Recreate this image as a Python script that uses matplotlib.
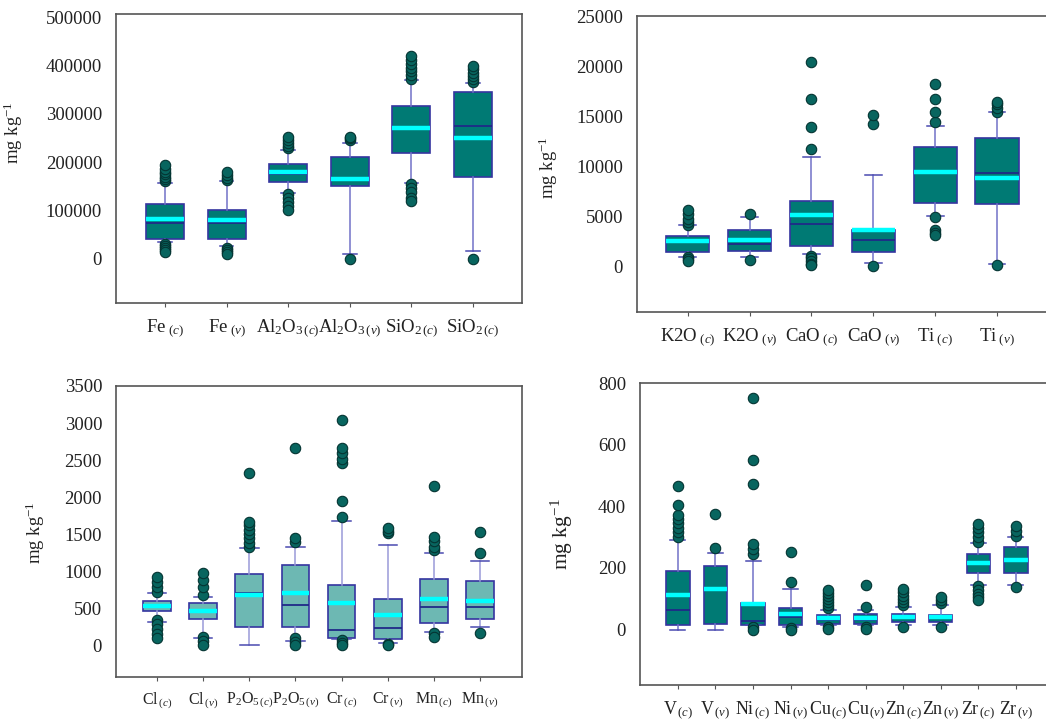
import numpy as np
import matplotlib
matplotlib.use('Agg')
import matplotlib.pyplot as plt

plt.rcParams['font.family'] = ['Liberation Serif', 'DejaVu Serif']
plt.rcParams['mathtext.fontset'] = 'custom'
plt.rcParams['mathtext.rm'] = 'Liberation Serif'
plt.rcParams['mathtext.it'] = 'Liberation Serif:italic'

# ---- panel 1 : major oxides (mg/kg)
labels1 = [r'Fe$_{\ (c)}$', r'Fe$_{\ (v)}$', r'Al$_2$O$_{3\,(c)}$', r'Al$_2$O$_{3\,(v)}$',
           r'SiO$_{2\,(c)}$', r'SiO$_{2\,(c)}$']
q1_1 = [41400, 41400, 158600, 150000, 219000, 169000]
med1 = [73800, 73800, 176000, 165000, 268000, 274000]
q3_1 = [113800, 101000, 196500, 210000, 317000, 346000]
mean1 = [82800, 79300, 178600, 165500, 270000, 250000]
lo1 = [34500, 26000, 136000, 10300, 157000, 15000]
hi1 = [157000, 161000, 226000, 239000, 370000, 365000]
fl1 = [[160000, 165000, 170000, 175000, 180000, 186000, 193000, 31000, 27000, 22000, 18000, 14000],
       [163000, 168000, 173000, 179000, 23000, 18000, 14000, 10000],
       [229000, 234000, 240000, 246000, 253000, 133000, 126000, 118000, 110000, 101000],
       [245000, 249000, 253000, 0],
       [372000, 380000, 388000, 396000, 404000, 412000, 420000, 154000, 146000, 138000, 126000, 120000],
       [367000, 372000, 378000, 385000, 392000, 400000, 0]]

# ---- panel 2
labels2 = [r'K2O$_{\ (c)}$', r'K2O$_{\ (v)}$', r'CaO$_{\ (c)}$', r'CaO$_{\ (v)}$',
           r'Ti$_{\ (c)}$', r'Ti$_{\ (v)}$']
q1_2 = [1400, 1500, 2070, 1400, 6330, 6190]
med2 = [2400, 2180, 4180, 2580, 9400, 9340]
q3_2 = [3010, 3580, 6490, 3580, 11950, 12880]
mean2 = [2510, 2640, 5090, 3580, 9400, 8870]
lo2 = [970, 900, 1240, 300, 5000, 230]
hi2 = [4080, 4920, 10940, 9100, 14020, 15460]
fl2 = [[4100, 4400, 4700, 5200, 5650, 900, 700, 500],
       [5190, 670],
       [11780, 13960, 16730, 20480, 1070, 800, 500, 250, 70],
       [14290, 15130, 0],
       [14460, 15460, 16800, 18300, 4900, 3600, 3300, 3100],
       [15500, 15900, 16300, 16500, 70]]

# ---- panel 3
labels3 = [r'Cl$_{\,(c)}$', r'Cl$_{\,(v)}$', r'P$_2$O$_{5\,(c)}$', r'P$_2$O$_{5\,(v)}$',
           r'Cr$_{\,(c)}$', r'Cr$_{\,(v)}$', r'Mn$_{\,(c)}$', r'Mn$_{\,(v)}$']
q1_3 = [464, 347, 239, 248, 90, 77, 293, 347]
med3 = [527, 460, 707, 545, 203, 234, 509, 509]
q3_3 = [600, 572, 964, 1086, 811, 617, 892, 869]
mean3 = [527, 464, 680, 698, 572, 405, 622, 599]
lo3 = [315, 90, 0, 54, 77, 32, 180, 248]
hi3 = [698, 653, 1306, 1329, 1680, 1351, 1239, 1135]
fl3 = [[720, 790, 850, 923, 338, 280, 220, 150, 90],
       [680, 790, 880, 968, 113, 60, 0],
       [1329, 1380, 1440, 1500, 1560, 1620, 1667, 2320],
       [1396, 1441, 2667, 90, 40, 0],
       [1725, 1950, 2455, 2520, 2590, 2658, 3040, 68, 30, 0],
       [1509, 1545, 1576, 20, 0],
       [1284, 1330, 1400, 1464, 2149, 158, 113],
       [1248, 1523, 167]]

# ---- panel 4
labels4 = [r'V$_{\,(c)}$', r'V$_{\,(v)}$', r'Ni$_{\,(c)}$', r'Ni$_{\,(v)}$', r'Cu$_{\,(c)}$',
           r'Cu$_{\,(v)}$', r'Zn$_{\,(c)}$', r'Zn$_{\,(v)}$', r'Zr$_{\,(c)}$', r'Zr$_{\,(v)}$']
q1_4 = [14, 19, 16, 16, 19, 19, 25, 25, 184, 182]
med4 = [63, 128, 27, 41, 32, 30, 36, 36, 217, 225]
q3_4 = [190, 205, 86, 71, 46, 52, 50, 46, 246, 268]
mean4 = [111, 130, 84, 50, 36, 39, 41, 41, 217, 227]
lo4 = [0, 0, 14, 9, 14, 14, 14, 14, 144, 144]
hi4 = [292, 249, 222, 133, 63, 63, 74, 79, 281, 301]
fl4 = [[300, 315, 330, 345, 360, 371, 403, 465],
       [266, 374],
       [246, 262, 279, 473, 549, 752, 9, 0],
       [155, 252, 5, 0],
       [70, 80, 90, 100, 110, 120, 128, 9, 3],
       [74, 144, 9, 3],
       [80, 90, 100, 110, 122, 133, 9],
       [85, 95, 104, 9],
       [285, 300, 315, 330, 344, 140, 128, 115, 105, 95],
       [305, 320, 336, 138]]


def draw_panel(ax, labels, q1, med, q3, mean, lo, hi, fliers, width, capw, face, wcol, xfs):
    stats = []
    for i in range(len(labels)):
        stats.append(dict(q1=q1[i], med=med[i], q3=q3[i], mean=mean[i],
                          whislo=lo[i], whishi=hi[i], fliers=np.array(fliers[i])))
    pos = np.arange(1, len(labels) + 1)
    ax.bxp(stats, positions=pos, widths=width, capwidths=capw, patch_artist=True,
           showmeans=True, meanline=True,
           boxprops=dict(facecolor=face, edgecolor='#3535a0', linewidth=1.2),
           medianprops=dict(color='#202a88', linewidth=1.3),
           meanprops=dict(color='#00ffff', linestyle='-', linewidth=3.2),
           whiskerprops=dict(color=wcol, linewidth=1.1),
           capprops=dict(color='#4a4ab0', linewidth=1.1),
           flierprops=dict(marker='o', markersize=7.5, markerfacecolor='#08655f',
                           markeredgecolor='#043432', markeredgewidth=0.8))
    ax.set_xticks(pos)
    ax.set_xticklabels(labels)
    ax.ticklabel_format(axis='y', style='plain')
    ax.tick_params(axis='y', length=0, pad=10, labelsize=13.5, labelcolor='#222222')
    ax.tick_params(axis='x', length=3, direction='out', color='#555555', pad=7,
                   labelsize=xfs, labelcolor='#222222')
    for s in ax.spines.values():
        s.set_color('#555555')
        s.set_linewidth(1.2)


fig = plt.figure(figsize=(10.46, 7.22), dpi=100)
W, H = 1046.0, 722.0

# axes boxes in pixels: left, top, right, bottom
ax1 = fig.add_axes([116 / W, 1 - 303 / H, (522 - 116) / W, (303 - 14) / H])
ax2 = fig.add_axes([637 / W, 1 - 312 / H, (1046 - 637) / W, (312 - 16) / H])
ax3 = fig.add_axes([116 / W, 1 - 677 / H, (522 - 116) / W, (677 - 386) / H])
ax4 = fig.add_axes([640 / W, 1 - 685 / H, (1046 - 640) / W, (685 - 383) / H])

draw_panel(ax1, labels1, q1_1, med1, q3_1, mean1, lo1, hi1, fl1, 0.62, 0.22, '#007a74', '#7272c8', 13.5)
ax1.set_xlim(0.2, 6.8)
ax1.set_ylim(-92000, 507000)
ax1.set_yticks(np.arange(0, 500001, 100000))

draw_panel(ax2, labels2, q1_2, med2, q3_2, mean2, lo2, hi2, fl2, 0.7, 0.27, '#007a74', '#7272c8', 13.5)
ax2.set_xlim(0.18, 6.79)
ax2.set_ylim(-4590, 25070)
ax2.set_yticks(np.arange(0, 25001, 5000))
ax2.spines['right'].set_visible(False)

draw_panel(ax3, labels3, q1_3, med3, q3_3, mean3, lo3, hi3, fl3, 0.6, 0.4, '#6db8b3', '#9a9ad8', 11.5)
ax3.set_xlim(0.11, 8.91)
ax3.set_ylim(-432, 3500)
ax3.set_yticks(np.arange(0, 3501, 500))

draw_panel(ax4, labels4, q1_4, med4, q3_4, mean4, lo4, hi4, fl4, 0.62, 0.4, '#007a74', '#7272c8', 13)
ax4.set_xlim(-0.01, 10.8)
ax4.set_ylim(-180, 800)
ax4.set_yticks(np.arange(0, 801, 200))
ax4.spines['right'].set_visible(False)

# y labels placed in figure coordinates
for ax, xp, yp, fs in [(ax1, 25, 133, 13.5), (ax2, 560, 168, 13.5), (ax3, 47, 533, 13.5), (ax4, 575, 534, 15.5)]:
    ax.set_ylabel(r'mg kg$^{-1}$', fontsize=fs, color='#222222')
    ax.yaxis.set_label_coords(xp / W, 1 - yp / H, transform=fig.transFigure)

fig.savefig('out.png', dpi=100)
